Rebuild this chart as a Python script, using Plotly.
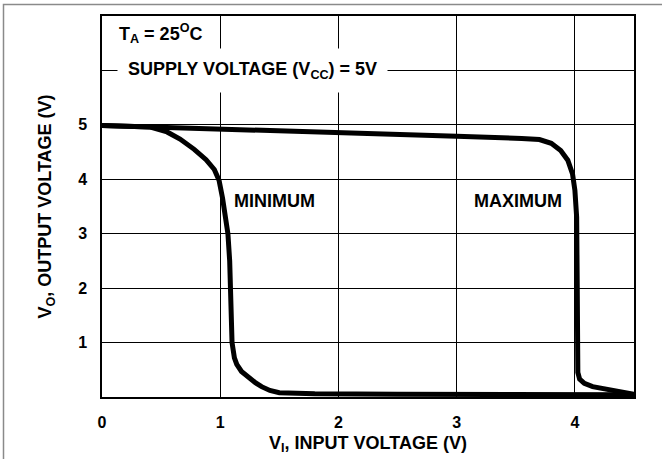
import plotly.graph_objects as go

# Data
vin_max = [0.0, 1.0, 2.0, 3.0, 3.55, 3.7, 3.8, 3.88, 3.94, 3.98, 4.0, 4.015, 4.02, 4.02, 4.025, 4.04, 4.08, 4.15, 4.28, 4.5]
vout_max = [4.99, 4.93, 4.86, 4.79, 4.75, 4.73, 4.66, 4.53, 4.35, 4.1, 3.8, 3.3, 2.0, 1.0, 0.45, 0.33, 0.25, 0.19, 0.13, 0.05]

vin_min = [0.0, 0.25, 0.41, 0.55, 0.66, 0.78, 0.88, 0.95, 0.99, 1.02, 1.045, 1.065, 1.08, 1.09, 1.1,
           1.12, 1.14, 1.18, 1.23, 1.3, 1.35, 1.42, 1.5, 1.8, 2.5, 3.5, 4.5]
vout_min = [4.99, 4.98, 4.96, 4.87, 4.74, 4.55, 4.36, 4.18, 3.98, 3.65, 3.3, 3.0, 2.5, 2.0, 1.0,
            0.72, 0.6, 0.47, 0.37, 0.26, 0.19, 0.12, 0.08, 0.06, 0.05, 0.05, 0.04]

x_ticks = [0, 1, 2, 3, 4]
y_ticks = [1, 2, 3, 4, 5, 6]
y_ticktext = ["1", "2", "3", "4", "5", ""]

FONT = "Liberation Sans, Arial, sans-serif"

fig = go.Figure()
fig.add_trace(go.Scatter(x=vin_max, y=vout_max, mode="lines", name="MAXIMUM",
                         line=dict(color="black", width=5)))
fig.add_trace(go.Scatter(x=vin_min, y=vout_min, mode="lines", name="MINIMUM",
                         line=dict(color="black", width=5)))

fig.update_layout(
    width=662, height=459,
    margin=dict(l=102, r=28, t=16, b=62),
    paper_bgcolor="white", plot_bgcolor="white",
    showlegend=False,
    font=dict(family=FONT, color="black", size=17, weight="bold"),
    xaxis=dict(range=[0, 4.5], tickvals=x_ticks, showgrid=True, gridcolor="black", gridwidth=1.3,
               showline=True, linecolor="black", linewidth=1.5, mirror=True, zeroline=False,
               ticks="", tickfont=dict(size=16, weight="bold"), ticklabelstandoff=10,
               automargin=False,
               title=dict(text="V<sub>I</sub>, INPUT VOLTAGE (V)", standoff=6,
                          font=dict(size=18, weight="bold"))),
    yaxis=dict(range=[0, 7], tickvals=y_ticks, ticktext=y_ticktext, showgrid=True, gridcolor="black",
               gridwidth=1.3, showline=True, linecolor="black", linewidth=1.5, mirror=True,
               zeroline=False, ticks="", tickfont=dict(size=16, weight="bold"), ticklabelstandoff=10,
               automargin=False,
               title=dict(text="V<sub>O</sub>, OUTPUT VOLTAGE (V)", standoff=22,
                          font=dict(size=18, weight="bold"))),
)

fig.add_annotation(x=0.127, y=6.67, xref="x", yref="y", xanchor="left", yanchor="middle",
                   text="T<sub>A</sub> = 25<sup>O</sup>C", showarrow=False,
                   font=dict(size=18, weight="bold"))
fig.add_annotation(x=0.127, y=6.0, xref="x", yref="y", xanchor="left", yanchor="middle",
                   text="SUPPLY VOLTAGE (V<sub>CC</sub>) = 5V", showarrow=False,
                   bgcolor="white", borderpad=10,
                   font=dict(size=18, weight="bold"))
fig.add_annotation(x=1.46, y=3.6, xref="x", yref="y", text="MINIMUM", showarrow=False,
                   font=dict(size=18, weight="bold"))
fig.add_annotation(x=3.52, y=3.6, xref="x", yref="y", text="MAXIMUM", showarrow=False,
                   font=dict(size=18, weight="bold"))

# outer frame of the figure
fig.add_shape(type="rect", xref="paper", yref="paper",
              x0=(3.5 - 102) / 532, x1=(670 - 102) / 532,
              y0=-(470 - 397) / 381, y1=1 + (16 - 4.5) / 381,
              line=dict(color="#8a8a8a", width=1.5), layer="below")

fig.write_html("out.html", config={"displayModeBar": False},
               post_script="document.body.style.margin='0px';")
